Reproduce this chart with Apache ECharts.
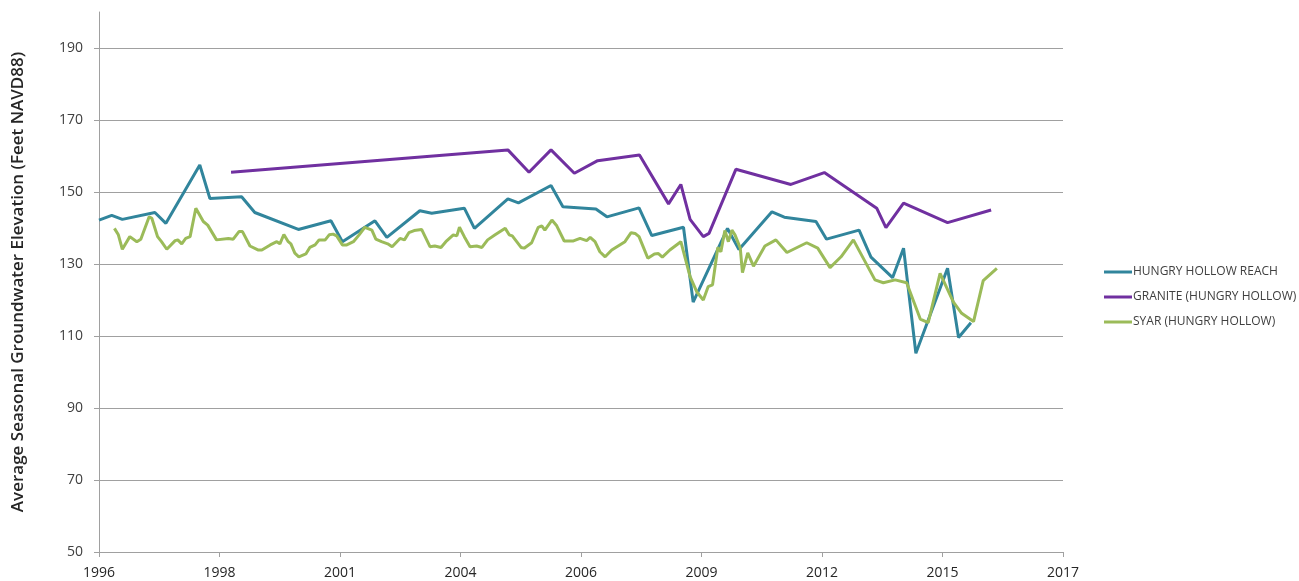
<!DOCTYPE html>
<html>
<head>
<meta charset="utf-8">
<title>Average Seasonal Groundwater Elevation</title>
<script src="https://cdn.jsdelivr.net/npm/echarts@6/dist/echarts.min.js"></script>
<style>
  html, body { margin: 0; padding: 0; background: #fff; }
  #chart { width: 1299px; height: 581px; }
</style>
</head>
<body>
<div id="chart"></div>
<script>
// x values are decimal years, y values are feet NAVD88
var seriesNames = ["HUNGRY HOLLOW REACH", "GRANITE (HUNGRY HOLLOW)", "SYAR (HUNGRY HOLLOW)"];
var seriesColors = ["#31859C", "#7030A0", "#9BBB59"];

var reachPoints = [
  [1996.00, 142.2], [1996.29, 143.5], [1996.53, 142.4], [1997.27, 144.3], [1997.52, 141.3],
  [1998.29, 157.5], [1998.52, 148.2], [1999.24, 148.7], [1999.54, 144.3], [2000.53, 139.6],
  [2001.27, 142.0], [2001.53, 136.2], [2002.27, 142.0], [2002.54, 137.4], [2003.29, 144.8],
  [2003.56, 144.1], [2004.30, 145.5], [2004.53, 139.9], [2005.29, 148.1], [2005.53, 147.0],
  [2006.27, 151.8], [2006.54, 145.9], [2007.29, 145.3], [2007.54, 143.1], [2008.27, 145.6],
  [2008.56, 137.9], [2009.28, 140.2], [2009.50, 119.4], [2010.28, 139.9], [2010.54, 134.0],
  [2011.29, 144.5], [2011.57, 143.0], [2012.29, 141.8], [2012.53, 136.9], [2013.27, 139.4],
  [2013.54, 131.9], [2014.03, 126.2], [2014.28, 134.4], [2014.56, 105.2], [2015.28, 128.8],
  [2015.53, 109.6], [2015.81, 113.7]
];

var granitePoints = [
  [1999.00, 155.5], [2005.29, 161.7], [2005.77, 155.5], [2006.27, 161.7], [2006.80, 155.2],
  [2007.33, 158.7], [2008.28, 160.3], [2008.94, 146.7], [2009.22, 152.1], [2009.43, 142.4],
  [2009.73, 137.6], [2009.86, 138.5], [2010.47, 156.3], [2011.72, 152.1], [2012.48, 155.4],
  [2013.67, 145.5], [2013.88, 140.1], [2014.28, 146.9], [2015.28, 141.5], [2016.27, 145.0]
];

var syarPoints = [
  [1996.35, 139.9], [1996.44, 138.1], [1996.53, 134.1], [1996.70, 137.6], [1996.86, 136.2],
  [1996.95, 136.9], [1997.14, 143.1], [1997.20, 142.7], [1997.33, 137.6], [1997.42, 136.2],
  [1997.54, 134.1], [1997.73, 136.5], [1997.79, 136.7], [1997.88, 135.6], [1997.97, 137.1],
  [1998.07, 137.6], [1998.20, 145.5], [1998.37, 141.8], [1998.47, 140.8], [1998.67, 136.7],
  [1998.94, 137.1], [1999.05, 136.9], [1999.18, 139.0], [1999.26, 139.0], [1999.43, 135.0],
  [1999.61, 133.9], [1999.70, 133.9], [1999.89, 135.3], [2000.04, 136.2], [2000.11, 135.6],
  [2000.20, 138.2], [2000.30, 136.2], [2000.36, 135.6], [2000.45, 133.0], [2000.54, 132.0],
  [2000.70, 132.8], [2000.79, 134.6], [2000.91, 135.3], [2001.00, 136.7], [2001.14, 136.7],
  [2001.23, 138.1], [2001.32, 138.3], [2001.40, 137.8], [2001.53, 135.3], [2001.63, 135.3],
  [2001.78, 136.2], [2001.91, 138.1], [2002.04, 140.2], [2002.20, 139.4], [2002.29, 136.9],
  [2002.42, 136.2], [2002.56, 135.6], [2002.66, 134.8], [2002.84, 137.1], [2002.94, 136.7],
  [2003.04, 138.7], [2003.16, 139.3], [2003.33, 139.6], [2003.52, 134.8], [2003.63, 135.0],
  [2003.77, 134.6], [2003.88, 136.2], [2004.05, 138.1], [2004.13, 137.8], [2004.19, 140.2],
  [2004.30, 137.6], [2004.43, 134.8], [2004.58, 135.0], [2004.70, 134.6], [2004.83, 136.7],
  [2005.00, 138.1], [2005.23, 139.9], [2005.32, 138.1], [2005.39, 137.8], [2005.59, 134.6],
  [2005.66, 134.4], [2005.83, 135.9], [2005.98, 140.2], [2006.06, 140.6], [2006.13, 139.4],
  [2006.29, 142.2], [2006.40, 140.6], [2006.57, 136.4], [2006.78, 136.4], [2006.93, 137.1],
  [2007.08, 136.5], [2007.16, 137.4], [2007.27, 136.2], [2007.38, 133.4], [2007.50, 132.0],
  [2007.65, 133.9], [2007.95, 136.2], [2008.09, 138.7], [2008.18, 138.5], [2008.27, 137.6],
  [2008.37, 134.6], [2008.47, 131.6], [2008.62, 132.8], [2008.71, 132.9], [2008.80, 131.9],
  [2008.97, 133.9], [2009.22, 136.2], [2009.43, 126.5], [2009.58, 122.3], [2009.73, 120.0],
  [2009.84, 123.7], [2009.94, 124.2], [2010.06, 134.6], [2010.13, 133.4], [2010.22, 139.3],
  [2010.30, 136.2], [2010.38, 139.4], [2010.45, 138.1], [2010.57, 134.4], [2010.62, 127.6],
  [2010.74, 133.1], [2010.87, 129.4], [2011.13, 135.0], [2011.38, 136.7], [2011.63, 133.2],
  [2012.08, 135.9], [2012.33, 134.4], [2012.61, 129.0], [2012.86, 132.0], [2013.14, 136.7],
  [2013.63, 125.6], [2013.82, 124.8], [2014.09, 125.6], [2014.35, 124.8], [2014.66, 114.7],
  [2014.84, 113.7], [2015.11, 127.4], [2015.41, 119.5], [2015.60, 116.3], [2015.87, 114.0],
  [2016.09, 125.4], [2016.40, 128.8]
];

// axis: days counted from 1 Jan 1996, one tick per 1000 days (Excel date axis)
var startYear = 1996;
var dayTickStep = 1000;
var dayMax = 8000;
var yMin = 50;
var yMax = 200;
var yStep = 20;

function toDays(points) {
  return points.map(function (p) {
    return [(p[0] - startYear) * 365.25, p[1]];
  });
}

var chart = echarts.init(document.getElementById("chart"));
var allPoints = [reachPoints, granitePoints, syarPoints];

chart.setOption({
  animation: false,
  color: seriesColors,
  textStyle: { fontFamily: "Open Sans" },
  grid: { left: 99, right: 236, top: 12, bottom: 29, containLabel: false, outerBoundsMode: "none" },
  legend: {
    orient: "vertical",
    left: 1099,
    top: 261,
    itemWidth: 28,
    itemHeight: 10,
    itemGap: 13,
    icon: "path://M0,4 L28,4 L28,7 L0,7 Z",
    data: seriesNames,
    textStyle: { color: "#404040", fontSize: 12, padding: [0, 0, 0, -4] }
  },
  xAxis: {
    type: "value",
    min: 0,
    max: dayMax,
    interval: dayTickStep,
    axisLine: { show: true, onZero: false, lineStyle: { color: "#a0a0a0", width: 1 } },
    axisTick: { show: true, inside: false, length: 5, lineStyle: { color: "#a0a0a0" } },
    splitLine: { show: false },
    axisLabel: {
      color: "#262626",
      fontSize: 14,
      margin: 14,
      formatter: function (v) {
        return String(Math.floor(startYear + v / 365.25));
      }
    }
  },
  yAxis: {
    type: "value",
    min: yMin,
    max: yMax,
    interval: yStep,
    name: "Average Seasonal Groundwater Elevation (Feet NAVD88)",
    nameLocation: "middle",
    nameGap: 72,
    nameTextStyle: { color: "#262626", fontSize: 17, fontWeight: 600 },
    axisLine: { show: true, lineStyle: { color: "#a0a0a0", width: 1 } },
    axisTick: { show: true, inside: false, length: 5, lineStyle: { color: "#a0a0a0" } },
    axisLabel: { color: "#404040", fontSize: 14, margin: 16, showMaxLabel: false },
    splitLine: { show: true, showMaxLine: false, showMinLine: false, lineStyle: { color: "#a0a0a0", width: 1 } }
  },
  series: seriesNames.map(function (name, i) {
    return {
      name: name,
      type: "line",
      data: toDays(allPoints[i]),
      symbol: "none",
      lineStyle: { width: 3, color: seriesColors[i] },
      itemStyle: { color: seriesColors[i] }
    };
  })
});
</script>
</body>
</html>
